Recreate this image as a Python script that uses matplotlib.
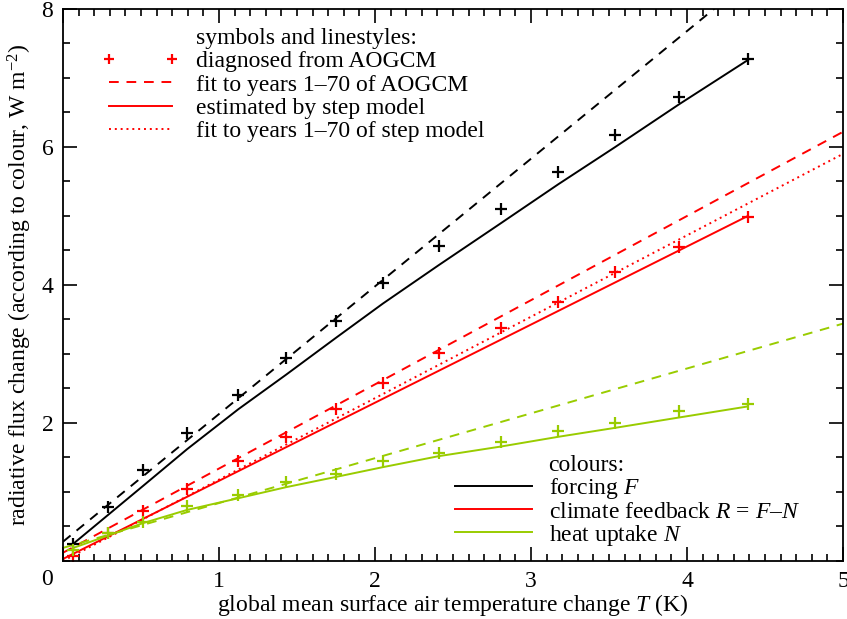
import matplotlib
matplotlib.use("Agg")
import matplotlib.pyplot as plt
from matplotlib.lines import Line2D
import numpy as np

plt.rcParams['font.family'] = ['Liberation Serif', 'DejaVu Serif']
plt.rcParams['mathtext.fontset'] = 'custom'
plt.rcParams['mathtext.rm'] = 'Liberation Serif'
plt.rcParams['mathtext.it'] = 'Liberation Serif:italic'
plt.rcParams['mathtext.bf'] = 'Liberation Serif:bold'

# ---- data ----
T_aogcm = [0.066, 0.29, 0.514, 0.795, 1.124, 1.43, 1.753, 2.05, 2.41, 2.81, 3.175, 3.54, 3.95, 4.39]
F_aogcm = [0.25, 0.78, 1.32, 1.86, 2.40, 2.94, 3.48, 4.03, 4.57, 5.10, 5.64, 6.18, 6.73, 7.27]
R_aogcm = [0.07, 0.41, 0.73, 1.04, 1.45, 1.80, 2.21, 2.58, 3.01, 3.38, 3.76, 4.19, 4.55, 4.99]
N_aogcm = [0.16, 0.40, 0.56, 0.80, 0.96, 1.14, 1.26, 1.45, 1.57, 1.73, 1.89, 2.00, 2.18, 2.28]

T_step = [0.066, 0.29, 0.514, 0.795, 1.124, 1.43, 1.753, 2.05, 2.41, 2.81, 3.175, 3.54, 3.95, 4.39]
F_step = [0.25, 0.67, 1.09, 1.62, 2.20, 2.70, 3.24, 3.73, 4.29, 4.90, 5.46, 6.00, 6.62, 7.26]
N_step = [0.19, 0.37, 0.55, 0.74, 0.91, 1.07, 1.22, 1.36, 1.52, 1.66, 1.80, 1.93, 2.08, 2.24]
T_step_R = [0.0, 4.39]
R_step = [0.03, 5.00]

# linear fits (intercept, slope)
fit_F_aogcm = (0.28, 1.85)
fit_R_aogcm = (0.12, 1.22)
fit_N_aogcm = (0.19, 0.65)
fit_R_step = (0.0, 1.18)

c_F = 'black'
c_R = '#ff0000'
c_N = '#99cc00'

FS = 17

fig = plt.figure(figsize=(8.47, 6.19), dpi=100)
ax = fig.add_axes([0.0744, 0.0937, 0.9209, 0.8918])

Tfit = np.array([0.0, 5.0])
lw = 1.4
for (a, b), c in [(fit_F_aogcm, c_F), (fit_R_aogcm, c_R), (fit_N_aogcm, c_N)]:
    ax.plot(Tfit, a + b * Tfit, color=c, lw=lw, ls=(0, (5, 4)))
ax.plot(Tfit, fit_R_step[0] + fit_R_step[1] * Tfit, color=c_R, lw=lw, ls=(0, (1, 2)))

ax.plot(T_step, F_step, color=c_F, lw=lw)
ax.plot(T_step_R, R_step, color=c_R, lw=lw)
ax.plot(T_step, N_step, color=c_N, lw=lw)

ms = 8
mew = 1.6
ax.plot(T_aogcm, F_aogcm, ls='none', marker='+', color=c_F, ms=ms, mew=mew)
ax.plot(T_aogcm, R_aogcm, ls='none', marker='+', color=c_R, ms=ms, mew=mew)
ax.plot(T_aogcm, N_aogcm, ls='none', marker='+', color=c_N, ms=ms, mew=mew)

ax.set_xlim(0, 5)
ax.set_ylim(0, 8)
ax.set_xticks([0, 1, 2, 3, 4, 5])
ax.set_xticklabels(['', '1', '2', '3', '4', '5'])
ax.set_yticks([2, 4, 6, 8])
ax.set_xticks(np.arange(0, 5.01, 0.1), minor=True)
ax.set_yticks(np.arange(0, 8.01, 0.5), minor=True)
ax.tick_params(which='both', direction='in', top=True, right=True, labelsize=FS, width=1.2)
ax.tick_params(which='major', length=10)
ax.tick_params(which='minor', length=5)
ax.tick_params(axis='x', pad=7)
ax.tick_params(axis='y', pad=7)
for s in ax.spines.values():
    s.set_linewidth(1.3)
ax.text(-0.1, -0.27, '0', fontsize=FS, ha='center', va='center', transform=ax.transData, clip_on=False)

ax.set_xlabel('global mean surface air temperature change $T$ (K)', fontsize=FS, labelpad=0)
ax.set_ylabel('radiative flux change (according to colour, W m$^{-2}$)', fontsize=FS, labelpad=5)

# legend: symbols and linestyles
h1 = [
    Line2D([], [], ls='none'),
    Line2D([], [], ls='none', marker='+', color=c_R, ms=7, mew=1.6),
    Line2D([], [], color=c_R, lw=lw, ls=(0, (5, 4))),
    Line2D([], [], color=c_R, lw=lw),
    Line2D([], [], color=c_R, lw=lw, ls=(0, (1, 2))),
]
l1 = ['symbols and linestyles:', 'diagnosed from AOGCM', 'fit to years 1–70 of AOGCM',
      'estimated by step model', 'fit to years 1–70 of step model']
leg1 = ax.legend(h1, l1, loc='upper left', bbox_to_anchor=(0.050, 0.966), frameon=False,
                 fontsize=FS, handlelength=3.26, handletextpad=0.72, labelspacing=0.07,
                 numpoints=2, borderpad=0, borderaxespad=0)
ax.add_artist(leg1)

h2 = [
    Line2D([], [], ls='none'),
    Line2D([], [], color=c_F, lw=lw),
    Line2D([], [], color=c_R, lw=lw),
    Line2D([], [], color=c_N, lw=lw),
]
l2 = ['colours:', 'forcing $F$', 'climate feedback $R$ = $F$–$N$', 'heat uptake $N$']
leg2 = ax.legend(h2, l2, loc='upper left', bbox_to_anchor=(0.502, 0.193), frameon=False,
                 fontsize=FS, handlelength=3.26, handletextpad=0.72, labelspacing=0.0,
                 borderpad=0, borderaxespad=0)

fig.savefig('out.png', dpi=100)
